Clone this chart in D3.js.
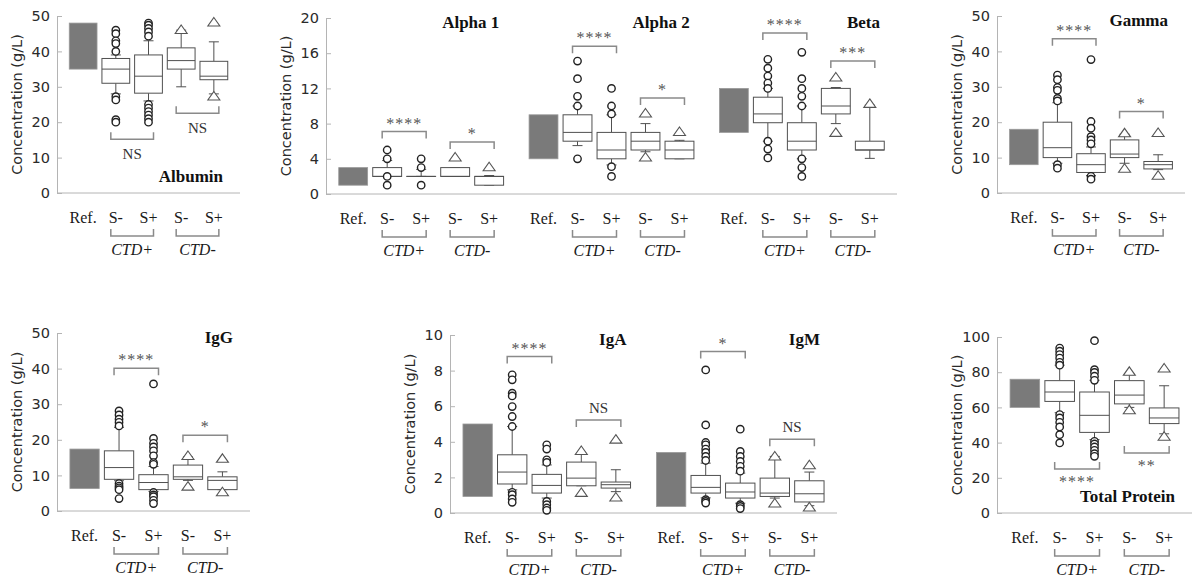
<!DOCTYPE html>
<html><head><meta charset="utf-8">
<script src="https://cdn.jsdelivr.net/npm/d3@7"></script>
<style>body{margin:0;background:#fff} svg{display:block}</style>
</head><body><svg id="c" width="1200" height="581"></svg>
<script>
// ---------- DATA ----------
const categories = ["Ref.", "S-", "S+", "S-", "S+"];
const categoryKeys = ["ref", "posNeg", "posPos", "negNeg", "negPos"];
const groupLabels = ["CTD+", "CTD-"];

// boxes: [lowWhisker, q1, median, q3, highWhisker] for CTD+ S-, CTD+ S+, CTD- S-, CTD- S+
const albuminRef = [35, 48];
const albuminBoxes = [[28, 31, 35, 38, 39], [26, 28.2, 33, 39, 43], [30, 35, 37.4, 41, 46], [28, 32, 33, 37.2, 42.7]];
const albuminOutliers = [[46, 45, 43, 42.2, 40, 27.2, 26.3, 20.7, 20], [48, 47.4, 46.5, 45.5, 44.3, 25, 24, 23, 22, 21, 20], [46.2], [48.3, 27.4]];
const albuminSignif = [["NS", 15.2], ["NS", 22.5]];

const alpha1Ref = [1, 3];
const alpha1Boxes = [[2, 2, 2, 3, 3.8], [2, 2, 2, 2, 2.8], [2, 2, 2, 3, 3], [1, 1, 2, 2, 2.1]];
const alpha1Outliers = [[5, 4, 2, 1], [4, 3, 1], [4.2], [3.1]];
const alpha1Signif = [["****", 7.1], ["*", 5.9]];

const alpha2Ref = [4, 9];
const alpha2Boxes = [[5.5, 6, 7, 9, 10], [3.3, 4, 5, 7, 9], [4.8, 5, 6, 7, 8], [4, 4, 5, 6, 6.1]];
const alpha2Outliers = [[15.1, 13.1, 11.1, 10, 4], [12, 10, 9.1, 3.1, 2], [9.2, 4.2], [7.1]];
const alpha2Signif = [["****", 16.8], ["*", 10.9]];

const betaRef = [7, 12];
const betaBoxes = [[6, 8.1, 9.1, 11, 12], [4, 5, 6, 8.1, 10], [8, 9.1, 10, 12, 12.1], [4.05, 5, 5, 6, 10.1]];
const betaOutliers = [[15.3, 14.3, 13.4, 12.6, 12, 6, 5.1, 4.1], [16.1, 13.1, 12, 11.1, 10, 4, 3, 2], [13.3, 7], [10.3]];
const betaSignif = [["****", 18.3], ["***", 15.1]];

const gammaRef = [8, 18];
const gammaBoxes = [[8.4, 10, 12.8, 20, 25.5], [4.9, 5.8, 8, 11.1, 13], [8.4, 10, 11, 15, 16.6], [6.6, 6.8, 8, 8.9, 10.8]];
const gammaOutliers = [[33.3, 32, 29.8, 29, 26.7, 26, 8, 7], [37.7, 20.2, 18.3, 15.9, 15, 13.9, 4.7, 3.9], [17, 7], [17.1, 5]];
const gammaSignif = [["****", 43.6], ["*", 23]];

const iggRef = [6.3, 17.4];
const iggBoxes = [[8.5, 8.9, 12.2, 16.9, 23.5], [5.5, 6, 8, 10.2, 12.5], [8.6, 8.9, 9.6, 12.9, 15.2], [6, 6, 8.6, 9.6, 11]];
const iggOutliers = [[28.1, 27, 25.8, 24.9, 23.9, 7.7, 7, 6.5, 6, 3.5], [35.7, 20.4, 19, 18, 16.9, 15.5, 13.6, 13.1, 5.2, 4.5, 4, 3, 2.1], [15.6, 7], [14.8, 5.4]];
const iggSignif = [["****", 40.1], ["*", 21.3]];

const igaRef = [0.93, 5];
const igaBoxes = [[1.3, 1.63, 2.3, 3.27, 4.86], [0.84, 1.12, 1.55, 2.17, 2.7], [1.53, 1.53, 1.96, 2.86, 3.36], [1.2, 1.4, 1.59, 1.74, 2.43]];
const igaOutliers = [[7.76, 7.48, 6.73, 6.58, 5.98, 5.42, 4.86, 1.16, 1.03, 0.79, 0.6], [3.83, 3.59, 2.99, 2.84, 0.65, 0.47, 0.28, 0.15], [3.51, 1.16], [4.15, 0.9]];
const igaSignif = [["****", 8.79], ["NS", 5.23]];

const igmRef = [0.37, 3.4];
const igmBoxes = [[0.85, 1.12, 1.44, 2.11, 2.8], [0.55, 0.84, 1.18, 1.68, 2.24], [0.84, 0.93, 1.12, 1.96, 3.18], [0.41, 0.62, 1.08, 1.81, 2.3]];
const igmOutliers = [[8.04, 4.95, 3.96, 3.83, 3.59, 3.4, 3.18, 2.95, 0.75, 0.65, 0.56], [4.71, 3.46, 3.18, 2.9, 2.62, 2.35, 0.47, 0.37, 0.25], [3.2, 0.56], [2.71, 0.34]];
const igmSignif = [["*", 9.07], ["NS", 4.15]];

const tpRef = [60, 76];
const tpBoxes = [[57, 63.4, 68.75, 75.2, 84], [41.7, 45.8, 55.5, 68.75, 75.4], [60, 62, 67, 75.2, 78.6], [45, 50.8, 54, 59.7, 72.3]];
const tpOutliers = [[93.7, 91.9, 90, 88, 85.6, 84, 55.9, 54, 51.5, 48.9, 44.5, 39.8], [97.9, 81.4, 79.9, 77.7, 75.4, 40.7, 39.2, 37.5, 35.6, 33.7, 32.2], [80.5, 58.7], [82.4, 43.6]];
const tpSignif = [["****", 25], ["**", 34.1]];

const ticks50 = [0, 10, 20, 30, 40, 50];
const ticks20 = [0, 4, 8, 12, 16, 20];
const ticks10 = [0, 2, 4, 6, 8, 10];
const ticks100 = [0, 20, 40, 60, 80, 100];
const yAxisTitle = "Concentration (g/L)";

// ---------- TABLE ----------
const analytes = {
  "Albumin": {ref: albuminRef, boxes: albuminBoxes, out: albuminOutliers, sig: albuminSignif},
  "Alpha 1": {ref: alpha1Ref, boxes: alpha1Boxes, out: alpha1Outliers, sig: alpha1Signif},
  "Alpha 2": {ref: alpha2Ref, boxes: alpha2Boxes, out: alpha2Outliers, sig: alpha2Signif},
  "Beta": {ref: betaRef, boxes: betaBoxes, out: betaOutliers, sig: betaSignif},
  "Gamma": {ref: gammaRef, boxes: gammaBoxes, out: gammaOutliers, sig: gammaSignif},
  "IgG": {ref: iggRef, boxes: iggBoxes, out: iggOutliers, sig: iggSignif},
  "IgA": {ref: igaRef, boxes: igaBoxes, out: igaOutliers, sig: igaSignif},
  "IgM": {ref: igmRef, boxes: igmBoxes, out: igmOutliers, sig: igmSignif},
  "Total Protein": {ref: tpRef, boxes: tpBoxes, out: tpOutliers, sig: tpSignif}
};

// ---------- LAYOUT ----------
const panels = [
  {names: ["Albumin"], x0: 57, x1: 240, yb: 193, yt: 16, ticks: ticks50, title: "bottom", below: true},
  {names: ["Alpha 1", "Alpha 2", "Beta"], x0: 326, x1: 897, yb: 194, yt: 18, ticks: ticks20, title: "top", below: false},
  {names: ["Gamma"], x0: 997, x1: 1185, yb: 193, yt: 16, ticks: ticks50, title: "top", below: false},
  {names: ["IgG"], x0: 57, x1: 250, yb: 511, yt: 333, ticks: ticks50, title: "top", below: false},
  {names: ["IgA", "IgM"], x0: 450, x1: 837, yb: 513, yt: 335, ticks: ticks10, title: "top", below: false},
  {names: ["Total Protein"], x0: 997, x1: 1192, yb: 513, yt: 337, ticks: ticks100, title: "bottom", below: true}
];

const AXIS = "#b4b4b4", BOXC = "#505050", BRK = "#8a8a8a", REF = "#7a7a7a";
const SANS = "'DejaVu Sans', sans-serif", SERIF = "'Liberation Serif', 'Times New Roman', serif";

const svg = d3.select("#c");

panels.forEach(p => {
  const g = svg.append("g");
  const y = d3.scaleLinear().domain([0, d3.max(p.ticks)]).range([p.yb, p.yt]);
  const band = d3.scaleBand().domain(p.names).range([p.x0, p.x1]);
  const inner = d3.scalePoint().domain(categoryKeys).range([0, band.bandwidth()]).padding(0.8);
  const bw = inner.step() * 0.85;

  // y axis
  const ax = g.append("g").attr("transform", `translate(${p.x0},0)`)
    .call(d3.axisLeft(y).tickValues(p.ticks).tickSizeInner(-5).tickSizeOuter(0).tickPadding(7));
  ax.select(".domain").attr("stroke", AXIS);
  ax.selectAll(".tick line").attr("stroke", AXIS);
  ax.selectAll(".tick text").attr("fill", "#2a2a2a").style("font-family", SANS).style("font-size", "14.5px");
  // x axis line
  g.append("line").attr("x1", p.x0).attr("x2", p.x1).attr("y1", y(0)).attr("y2", y(0)).attr("stroke", AXIS);
  // axis title
  g.append("text").attr("transform", `translate(${p.x0 - 39},${(p.yb + p.yt) / 2}) rotate(-90)`)
    .attr("text-anchor", "middle").attr("dominant-baseline", "middle")
    .style("font-family", SANS).style("font-size", "14.5px").attr("fill", "#2a2a2a").text(yAxisTitle);

  p.names.forEach(name => {
    const d = analytes[name];
    const cx = k => band(name) + inner(k);
    // reference range
    g.append("rect").attr("x", cx("ref") - bw / 2).attr("width", bw)
      .attr("y", y(d.ref[1])).attr("height", y(d.ref[0]) - y(d.ref[1]))
      .attr("fill", REF).attr("stroke", "#9a9a9a").attr("stroke-width", 0.8);

    categoryKeys.slice(1).forEach((k, i) => {
      const b = d.boxes[i];
      const x = cx(k);
      const bg = g.append("g");
      // whiskers
      bg.append("line").attr("x1", x).attr("x2", x).attr("y1", y(b[0])).attr("y2", y(b[1])).attr("stroke", BOXC);
      bg.append("line").attr("x1", x).attr("x2", x).attr("y1", y(b[3])).attr("y2", y(b[4])).attr("stroke", BOXC);
      [b[0], b[4]].forEach(v => bg.append("line").attr("x1", x - 5).attr("x2", x + 5)
        .attr("y1", y(v)).attr("y2", y(v)).attr("stroke", BOXC));
      // box
      bg.append("rect").attr("x", x - bw / 2).attr("width", bw)
        .attr("y", y(b[3])).attr("height", Math.max(0.01, y(b[1]) - y(b[3])))
        .attr("fill", "#fff").attr("stroke", BOXC);
      bg.append("line").attr("x1", x - bw / 2).attr("x2", x + bw / 2)
        .attr("y1", y(b[2])).attr("y2", y(b[2])).attr("stroke", BOXC);
      // outliers
      const isTri = i >= 2;
      d.out[i].forEach(v => {
        if (isTri) {
          bg.append("path").attr("transform", `translate(${x},${y(v)})`)
            .attr("d", "M0,-4.5L6,4L-6,4Z").attr("fill", "#fff").attr("stroke", "#555").attr("stroke-width", 1.1);
        } else {
          bg.append("circle").attr("cx", x).attr("cy", y(v)).attr("r", 3.7)
            .attr("fill", "#fff").attr("stroke", "#222").attr("stroke-width", 1.4);
        }
      });
    });

    // category labels
    categoryKeys.forEach((k, i) => {
      g.append("text").attr("x", cx(k)).attr("y", p.yb + 30).attr("text-anchor", "middle")
        .style("font-family", SERIF).style("font-size", "16px").attr("fill", "#1a1a1a").text(categories[i]);
    });
    // group brackets and labels
    groupLabels.forEach((gl, i) => {
      const xa = cx(categoryKeys[1 + 2 * i]) - 5, xb = cx(categoryKeys[2 + 2 * i]) + 5;
      const yl = p.yb + 43;
      g.append("path").attr("d", `M${xa},${yl - 7}V${yl}H${xb}V${yl - 7}`)
        .attr("fill", "none").attr("stroke", BRK).attr("stroke-width", 1.5);
      g.append("text").attr("x", (xa + xb) / 2).attr("y", p.yb + 62).attr("text-anchor", "middle")
        .style("font-family", SERIF).style("font-size", "16px").style("font-style", "italic")
        .attr("fill", "#1a1a1a").text(gl);
    });
    // significance brackets
    d.sig.forEach((s, i) => {
      const xa = cx(categoryKeys[1 + 2 * i]) - 5, xb = cx(categoryKeys[2 + 2 * i]) + 5;
      const yl = y(s[1]);
      const isStar = s[0].includes("*");
      const dir = p.below ? -1 : 1;
      g.append("path").attr("d", `M${xa},${yl + 7 * dir}V${yl}H${xb}V${yl + 7 * dir}`)
        .attr("fill", "none").attr("stroke", BRK).attr("stroke-width", 1.5);
      const ty = p.below ? yl + (isStar ? 18 : 20) : yl - (isStar ? 3 : 7);
      g.append("text").attr("x", (xa + xb) / 2).attr("y", ty).attr("text-anchor", "middle")
        .style("font-family", SERIF).style("font-size", isStar ? "16px" : "15px")
        .style("letter-spacing", isStar ? "1px" : "0px")
        .attr("fill", isStar ? "#555" : "#333").text(s[0]);
    });
    // title
    g.append("text").attr("x", band(name) + band.bandwidth() - 17)
      .attr("y", p.title === "top" ? p.yt + 10 : p.yb - 11)
      .attr("text-anchor", "end").style("font-family", SERIF).style("font-size", "17px")
      .style("font-weight", "bold").attr("fill", "#111").text(name);
  });
});
</script></body></html>
